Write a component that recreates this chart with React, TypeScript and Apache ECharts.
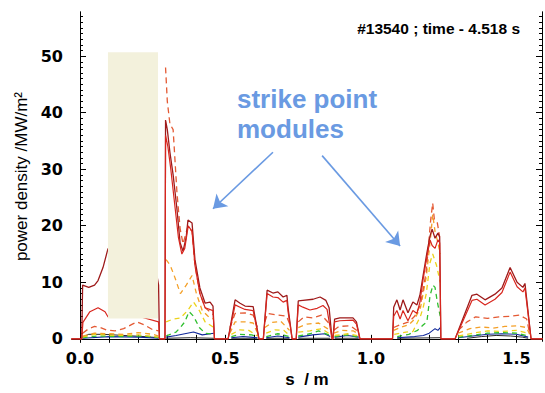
import React, { useEffect, useRef } from "react";
import * as echarts from "echarts";

// axis ranges
const X_MIN = -0.0275;
const X_MAX = 1.5876;
const Y_MIN = -0.4;
const Y_MAX = 57.8;

const xLabelValues = [0, 0.5, 1.0, 1.5];
const xTickValues = [0, 0.1, 0.2, 0.3, 0.4, 0.5, 0.6, 0.7, 0.8, 0.9, 1.0, 1.1, 1.2, 1.3, 1.4, 1.5];
const yLabelValues = [0, 10, 20, 30, 40, 50];
const yMinorTicks = Array.from({ length: 58 }, (_, i) => i);

// shaded region [x0, x1, y0, y1]
const shadedRegion = [[0.096, 0.268, 3.6, 50.7]];

// top solid trace (dark red)
const topSolid = [
  [-0.03, 0], [0.006, 0], [0.009, 9.5], [0.03, 9.1], [0.05, 9.5], [0.062, 10.3], [0.079, 12.6], [0.096, 15.9], [0.14, 17], [0.2, 14], [0.265, 11], [0.27, 9.5], [0.273, 0],
  [0.292, 0], [0.294, 38.7], [0.3, 37], [0.309, 33], [0.32, 29], [0.333, 23], [0.344, 17], [0.354, 15.5], [0.365, 18], [0.371, 21], [0.385, 20.5], [0.395, 14], [0.412, 9], [0.43, 6.3], [0.447, 6.5], [0.457, 5.8], [0.462, 0],
  [0.509, 0], [0.533, 6.9], [0.55, 6.3], [0.567, 5.8], [0.595, 5.7], [0.615, 0],
  [0.63, 0], [0.643, 8.6], [0.663, 8.1], [0.68, 8.3], [0.698, 7.4], [0.711, 7.7], [0.715, 5.5], [0.729, 0],
  [0.743, 0], [0.75, 6.7], [0.766, 6.8], [0.801, 7.0], [0.825, 7.4], [0.845, 6.8], [0.856, 5.5], [0.866, 0],
  [0.869, 0], [0.875, 3.5], [0.893, 3.7], [0.938, 3.7], [0.95, 3.0], [0.962, 0],
  [1.074, 0], [1.078, 5.6], [1.089, 6.9], [1.1, 5.1], [1.11, 6.9], [1.127, 4.6], [1.144, 6.5], [1.158, 6.0], [1.168, 7.7], [1.179, 11.2], [1.192, 15.2], [1.203, 18.2], [1.21, 19.4], [1.22, 17.8], [1.23, 18.7], [1.236, 18], [1.24, 0],
  [1.289, 0], [1.347, 7.7], [1.364, 7.9], [1.392, 6.9], [1.426, 7.9], [1.45, 9.0], [1.478, 12.6], [1.502, 10.0], [1.522, 9.1], [1.529, 9.8], [1.55, 0], [1.59, 0],
];

// second solid trace (red)
const secondSolid = [
  [-0.03, 0], [0.006, 0], [0.01, 2.9], [0.034, 4.8], [0.062, 5.5], [0.086, 4.8], [0.096, 3.9], [0.2, 4], [0.27, 3], [0.273, 0],
  [0.292, 0], [0.294, 36], [0.302, 34], [0.312, 30], [0.325, 24], [0.338, 18], [0.35, 15], [0.36, 16], [0.372, 20], [0.385, 19], [0.395, 13], [0.412, 8], [0.43, 5.5], [0.457, 5], [0.462, 0],
  [0.509, 0], [0.533, 6.0], [0.55, 5.6], [0.567, 5.2], [0.595, 5.0], [0.615, 0],
  [0.63, 0], [0.643, 8.0], [0.663, 7.4], [0.68, 7.3], [0.698, 6.5], [0.711, 6.8], [0.715, 4.8], [0.729, 0],
  [0.743, 0], [0.75, 6.0], [0.766, 5.6], [0.79, 5.1], [0.815, 5.4], [0.835, 5.9], [0.849, 5.2], [0.866, 0],
  [0.869, 0], [0.875, 3.0], [0.893, 3.2], [0.938, 3.3], [0.95, 2.6], [0.962, 0],
  [1.074, 0], [1.078, 4.0], [1.089, 5.0], [1.1, 3.5], [1.11, 5.0], [1.127, 3.2], [1.144, 5.0], [1.158, 4.5], [1.168, 6.5], [1.179, 10.5], [1.192, 14.5], [1.203, 17.5], [1.21, 16.5], [1.22, 16], [1.23, 17.5], [1.236, 17], [1.24, 0],
  [1.289, 0], [1.347, 6.8], [1.364, 7.0], [1.392, 6.0], [1.426, 7.0], [1.45, 8.2], [1.478, 11.8], [1.502, 9.2], [1.522, 8.3], [1.529, 9.0], [1.55, 0], [1.59, 0],
];

// dashed orange-red trace, per module
const orangeRed = [
  [[0.009, 1.0], [0.03, 1.8], [0.05, 2.2], [0.07, 2.0], [0.09, 1.6], [0.12, 1.4], [0.15, 1.8], [0.18, 2.6], [0.196, 3.0], [0.22, 2.5], [0.25, 1.6], [0.27, 1.4]],
  [[0.294, 48], [0.3, 42], [0.309, 38], [0.32, 37], [0.333, 26], [0.344, 19.5], [0.354, 16.8], [0.371, 19.9], [0.385, 19], [0.395, 13], [0.412, 8.1], [0.43, 5.5], [0.457, 4.3]],
  [[0.515, 2], [0.533, 4.5], [0.567, 4.6], [0.595, 4.2], [0.61, 2]],
  [[0.635, 3], [0.645, 4.5], [0.68, 4.2], [0.71, 4], [0.725, 2]],
  [[0.75, 3], [0.77, 3.9], [0.8, 3.7], [0.83, 4.2], [0.86, 2.5]],
  [[0.872, 1.5], [0.89, 2.2], [0.93, 2.3], [0.958, 1.2]],
  [[1.078, 2], [1.1, 2.5], [1.13, 3], [1.15, 4], [1.17, 6], [1.19, 12], [1.205, 21], [1.212, 24], [1.218, 21], [1.228, 20.5], [1.236, 18]],
  [[1.3, 1.5], [1.33, 3], [1.36, 3.9], [1.4, 3.6], [1.44, 3.9], [1.48, 4.0], [1.51, 4.2], [1.535, 3.5], [1.545, 1]],
];

// dashed orange trace
const orange = [
  [[0.009, 0.5], [0.05, 1.0], [0.1, 0.9], [0.15, 0.8], [0.2, 1.1], [0.25, 0.8], [0.27, 0.5]],
  [[0.296, 14], [0.31, 13], [0.325, 11], [0.345, 8], [0.365, 9.5], [0.385, 11.2], [0.4, 8], [0.42, 5], [0.44, 4], [0.46, 3.5]],
  [[0.515, 1], [0.533, 3.0], [0.567, 3], [0.595, 2.8], [0.61, 1]],
  [[0.635, 2], [0.66, 2.9], [0.69, 3.1], [0.72, 1.5]],
  [[0.75, 2], [0.78, 2.6], [0.82, 2.8], [0.86, 1.5]],
  [[0.872, 1], [0.9, 1.5], [0.94, 1.4], [0.958, 0.8]],
  [[1.078, 1.5], [1.1, 2], [1.13, 2.5], [1.15, 3.5], [1.17, 5.5], [1.19, 11], [1.205, 18], [1.212, 22], [1.22, 19], [1.23, 17], [1.238, 15]],
  [[1.3, 1], [1.34, 1.8], [1.38, 2.1], [1.42, 1.9], [1.46, 2.2], [1.5, 2.3], [1.535, 2], [1.545, 0.8]],
];

// dashed yellow trace
const yellow = [
  [[0.009, 0.3], [0.05, 0.8], [0.12, 0.6], [0.2, 0.7], [0.27, 0.3]],
  [[0.296, 3], [0.32, 3.5], [0.345, 3.7], [0.37, 5], [0.39, 6.5], [0.41, 5], [0.43, 3], [0.46, 2]],
  [[0.52, 0.8], [0.55, 1.6], [0.58, 1.5], [0.61, 0.5]],
  [[0.64, 1], [0.67, 1.6], [0.7, 1.5], [0.72, 0.6]],
  [[0.75, 1.2], [0.79, 1.4], [0.83, 1.8], [0.86, 0.8]],
  [[0.875, 0.6], [0.92, 0.9], [0.958, 0.5]],
  [[1.08, 0.8], [1.12, 1.2], [1.144, 1.3], [1.17, 4], [1.179, 5.5], [1.19, 8], [1.203, 13.5], [1.212, 15], [1.225, 13], [1.238, 10]],
  [[1.3, 0.5], [1.35, 1.0], [1.4, 1.4], [1.45, 1.3], [1.5, 1.5], [1.54, 1.0]],
];

// dashed green trace
const green = [
  [[0.009, 0.2], [0.06, 0.5], [0.15, 0.4], [0.22, 0.5], [0.27, 0.2]],
  [[0.296, 0.5], [0.33, 1.2], [0.345, 2], [0.36, 3], [0.375, 4.8], [0.39, 4], [0.41, 2], [0.43, 1], [0.46, 0.8]],
  [[0.52, 0.4], [0.55, 0.8], [0.59, 0.7], [0.61, 0.3]],
  [[0.64, 0.4], [0.68, 0.9], [0.72, 0.4]],
  [[0.75, 0.5], [0.79, 0.9], [0.82, 1.4], [0.86, 0.6]],
  [[0.875, 0.4], [0.92, 0.7], [0.958, 0.3]],
  [[1.09, 0.4], [1.13, 0.8], [1.16, 1.5], [1.18, 2.5], [1.192, 3], [1.203, 7.7], [1.213, 9.5], [1.22, 9.1], [1.228, 6.5], [1.238, 4]],
  [[1.3, 0.3], [1.35, 0.6], [1.4, 1.0], [1.45, 1.1], [1.5, 1.0], [1.54, 0.5]],
];

// solid blue trace
const blue = [
  [[0.009, 0.1], [0.1, 0.4], [0.2, 0.3], [0.27, 0.1]],
  [[0.296, 0.3], [0.33, 0.6], [0.36, 0.9], [0.39, 1.2], [0.42, 0.7], [0.46, 1.0]],
  [[0.52, 0.2], [0.56, 0.4], [0.61, 0.2]],
  [[0.64, 0.2], [0.68, 0.5], [0.72, 0.2]],
  [[0.75, 0.3], [0.8, 0.7], [0.84, 0.9], [0.86, 0.4]],
  [[0.875, 0.3], [0.92, 0.6], [0.958, 0.3]],
  [[1.09, 0.2], [1.15, 0.4], [1.18, 0.6], [1.2, 1.0], [1.22, 1.8], [1.23, 1.5], [1.238, 2]],
  [[1.3, 0.2], [1.35, 0.5], [1.4, 0.8], [1.45, 0.9], [1.5, 0.8], [1.54, 0.3]],
];

// solid black trace
const black = [
  [[0.009, 0.3], [0.03, 0.8], [0.08, 0.8], [0.15, 0.6], [0.22, 0.4], [0.27, 0.2]],
  [[0.296, 0.1], [0.38, 0.2], [0.46, 0.1]],
  [[0.52, 0.1], [0.61, 0.1]],
  [[0.64, 0.1], [0.72, 0.1]],
  [[0.75, 0.1], [0.86, 0.1]],
  [[0.875, 0.1], [0.958, 0.1]],
  [[1.09, 0.1], [1.238, 0.2]],
  [[1.33, 0.1], [1.38, 0.4], [1.43, 0.6], [1.48, 0.5], [1.52, 0.3], [1.54, 0.1]],
];

// arrows: [start, end] in data coordinates
const arrowLeft = [[0.663, 33.0], [0.457, 23.0]];
const arrowRight = [[0.832, 32.4], [1.1, 16.4]];

function joinModules(mods: number[][][]) {
  const out: any[] = [];
  mods.forEach((m, i) => {
    if (i > 0) out.push([m[0][0], "-"]);
    m.forEach((p) => out.push(p));
  });
  return out;
}

const FONT = "Liberation Sans, Arial, Helvetica, sans-serif";
const TICK_FONT = "DejaVu Sans, Liberation Sans, sans-serif";

export default function App() {
  const ref = useRef<HTMLDivElement>(null);
  useEffect(() => {
    if (!ref.current) return;
    const chart = echarts.init(ref.current, null, { renderer: "svg" });
    const axisLine = { show: true, lineStyle: { color: "#000", width: 1 } };
    const dashed = (name: string, mods: number[][][], color: string, dash: number[]) => ({
      name,
      type: "line",
      data: joinModules(mods),
      showSymbol: false,
      symbol: "none",
      connectNulls: false,
      lineStyle: { color, width: 1.3, type: dash },
      z: 3,
    });
    const solid = (name: string, mods: number[][][], color: string, width: number) => ({
      name,
      type: "line",
      data: joinModules(mods),
      showSymbol: false,
      symbol: "none",
      connectNulls: false,
      lineStyle: { color, width },
      z: 3,
    });
    const option: any = {
      animation: false,
      backgroundColor: "#fff",
      grid: { left: 72, right: 3, top: 12, bottom: 46 },
      xAxis: [
        {
          type: "value",
          min: X_MIN,
          max: X_MAX,
          position: "bottom",
          axisLine,
          splitLine: { show: false },
          axisTick: { show: true, inside: true, length: 4, customValues: xTickValues, lineStyle: { color: "#000" } },
          axisLabel: {
            show: true,
            customValues: xLabelValues,
            formatter: (v: number) => v.toFixed(1),
            color: "#000",
            fontFamily: TICK_FONT,
            fontWeight: "bold",
            fontSize: 16,
            margin: 9,
          },
          name: "s  / m",
          nameLocation: "middle",
          nameGap: 29,
          nameTextStyle: { color: "#000", fontFamily: FONT, fontWeight: "bold", fontSize: 17 },
        },
        {
          type: "value",
          min: X_MIN,
          max: X_MAX,
          position: "top",
          axisLine,
          splitLine: { show: false },
          axisTick: { show: true, inside: true, length: 4, customValues: xTickValues, lineStyle: { color: "#000" } },
          axisLabel: { show: false },
        },
      ],
      yAxis: [
        {
          type: "value",
          min: Y_MIN,
          max: Y_MAX,
          position: "left",
          axisLine,
          splitLine: { show: false },
          axisTick: { show: true, inside: true, length: 6, customValues: yLabelValues, lineStyle: { color: "#000" } },
          axisLabel: {
            show: true,
            customValues: yLabelValues,
            color: "#000",
            fontFamily: TICK_FONT,
            fontWeight: "bold",
            fontSize: 16,
            margin: 9,
          },
          name: "power density /MW/m²",
          nameLocation: "middle",
          nameGap: 37,
          nameTextStyle: { color: "#000", fontFamily: FONT, fontSize: 17 },
        },
        {
          type: "value",
          min: Y_MIN,
          max: Y_MAX,
          position: "left",
          offset: 0,
          axisLine,
          splitLine: { show: false },
          axisTick: { show: true, inside: true, length: 3, customValues: yMinorTicks, lineStyle: { color: "#000" } },
          axisLabel: { show: false },
        },
        {
          type: "value",
          min: Y_MIN,
          max: Y_MAX,
          position: "right",
          offset: 0,
          axisLine,
          splitLine: { show: false },
          axisTick: { show: true, inside: true, length: 3, customValues: yMinorTicks, lineStyle: { color: "#000" } },
          axisLabel: { show: false },
        },
        {
          type: "value",
          min: Y_MIN,
          max: Y_MAX,
          position: "right",
          offset: 0,
          axisLine,
          splitLine: { show: false },
          axisTick: { show: true, inside: true, length: 6, customValues: yLabelValues, lineStyle: { color: "#000" } },
          axisLabel: { show: false },
        },
      ],
      series: [
        solid("black", black, "#111111", 0.9),
        solid("blue", blue, "#10289a", 1.1),
        dashed("green", green, "#2fbf2f", [5, 4]),
        dashed("yellow", yellow, "#ecd21a", [5, 4]),
        dashed("orange", orange, "#f4a028", [5, 4]),
        dashed("orange-red", orangeRed, "#e45a34", [6, 4]),
        {
          name: "top",
          type: "line",
          data: topSolid,
          showSymbol: false,
          symbol: "none",
          lineStyle: { color: "#9e1a1a", width: 1.3 },
          z: 4,
          markLine: {
            silent: true,
            symbol: ["none", "arrow"],
            symbolSize: 13,
            label: { show: false },
            lineStyle: { color: "#6a9ae2", width: 1.6, type: "solid" },
            data: [
              [{ coord: arrowLeft[0] }, { coord: arrowLeft[1] }],
              [{ coord: arrowRight[0] }, { coord: arrowRight[1] }],
            ],
          },
        },
        {
          name: "second",
          type: "line",
          data: secondSolid,
          showSymbol: false,
          symbol: "none",
          lineStyle: { color: "#d8261e", width: 1.2 },
          z: 4,
        },
        {
          name: "shade",
          type: "custom",
          data: shadedRegion,
          encode: { x: [0, 1], y: [2, 3] },
          z: 10,
          silent: true,
          renderItem: (params: any, api: any) => {
            const p1 = api.coord([api.value(0), api.value(3)]);
            const p2 = api.coord([api.value(1), api.value(2)]);
            return {
              type: "rect",
              shape: { x: p1[0], y: p1[1], width: p2[0] - p1[0], height: p2[1] - p1[1] },
              style: { fill: "#f3f1dc" },
            };
          },
        },
      ],
      graphic: [
        {
          type: "text",
          x: 520,
          y: 28,
          z: 20,
          style: {
            text: "#13540 ; time - 4.518 s",
            fill: "#000",
            font: `bold 15.5px ${FONT}`,
            textAlign: "right",
            textVerticalAlign: "middle",
          },
        },
        {
          type: "text",
          x: 237,
          y: 84,
          z: 20,
          style: {
            text: "strike point\nmodules",
            fill: "#6a9ae2",
            font: `bold 26px ${FONT}`,
            lineHeight: 30,
            textAlign: "left",
            textVerticalAlign: "top",
          },
        },
      ],
    };
    chart.setOption(option);
    return () => chart.dispose();
  }, []);
  return <div ref={ref} style={{ position: "fixed", left: 0, top: 0, width: 545, height: 393, background: "#fff" }} />;
}
